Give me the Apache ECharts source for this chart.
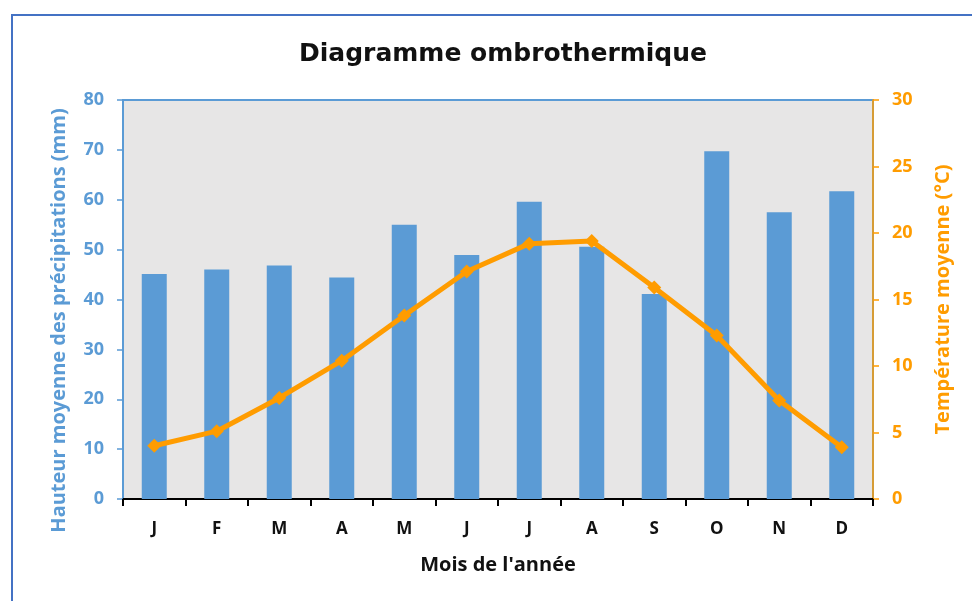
<!DOCTYPE html>
<html>
<head>
<meta charset="utf-8">
<script src="https://cdn.jsdelivr.net/npm/echarts@6/dist/echarts.min.js"></script>
<style>html,body{margin:0;padding:0;background:#fff}#c{width:972px;height:601px}</style>
</head>
<body>
<div id="c"></div>
<script>
var months = ['J','F','M','A','M','J','J','A','S','O','N','D'];
var precipitation = [45.1, 46.0, 46.8, 44.4, 55.0, 48.9, 59.6, 50.6, 41.1, 69.7, 57.5, 61.7];
var temperature = [4.0, 5.1, 7.6, 10.4, 13.8, 17.1, 19.2, 19.4, 15.9, 12.3, 7.4, 3.9];
var leftTicks = {min: 0, max: 80, interval: 10};
var rightTicks = {min: 0, max: 30, interval: 5};

var blue = '#5b9bd5', orange = '#ff9c00';
var chart = echarts.init(document.getElementById('c'), null, {renderer: 'canvas'});
chart.setOption({
  backgroundColor: '#ffffff',
  animation: false,
  title: {
    text: 'Diagramme ombrothermique',
    left: 498, top: 37, textAlign: 'center',
    textStyle: {fontFamily: 'DejaVu Sans', fontWeight: 'bold', fontSize: 25, color: '#111'}
  },
  graphic: [{
    type: 'rect', silent: true,
    shape: {x: 12, y: 15, width: 1000, height: 700},
    style: {fill: 'none', stroke: '#4472c4', lineWidth: 2}
  }],
  grid: {
    left: 123, top: 100, right: 99, bottom: 102,
    show: true, backgroundColor: '#e7e6e6', borderColor: blue, borderWidth: 2
  },
  xAxis: {
    type: 'category', data: months,
    name: "Mois de l'année", nameLocation: 'middle', nameGap: 56,
    nameTextStyle: {fontFamily: 'Open Sans', fontWeight: 'bold', fontSize: 20, color: '#111'},
    axisLine: {lineStyle: {color: '#000', width: 2}},
    axisTick: {show: true, length: 7, lineStyle: {color: '#000', width: 2}},
    axisLabel: {margin: 22, fontFamily: 'Open Sans', fontWeight: 'bold', fontSize: 17, color: '#111'}
  },
  yAxis: [{
    type: 'value', min: leftTicks.min, max: leftTicks.max, interval: leftTicks.interval,
    name: 'Hauteur moyenne des précipitations (mm)', nameLocation: 'middle', nameGap: 54, nameRotate: 90,
    nameTextStyle: {fontFamily: 'Open Sans', fontWeight: 'bold', fontSize: 20, color: blue, padding: [0, 42, 0, 0]},
    axisLine: {show: true, lineStyle: {color: blue, width: 1.5}},
    axisTick: {show: true, length: 6, lineStyle: {color: blue, width: 1.5}},
    axisLabel: {margin: 19, fontFamily: 'Open Sans', fontWeight: 'bold', fontSize: 18, color: blue},
    splitLine: {show: false}
  }, {
    type: 'value', min: rightTicks.min, max: rightTicks.max, interval: rightTicks.interval,
    position: 'right',
    name: 'Température moyenne (°C)', nameLocation: 'middle', nameGap: 60, nameRotate: 90,
    nameTextStyle: {fontFamily: 'Open Sans', fontWeight: 'bold', fontSize: 20, color: orange},
    axisLine: {show: true, lineStyle: {color: orange, width: 1.5}},
    axisTick: {show: true, length: 6, lineStyle: {color: orange, width: 1.5}},
    axisLabel: {margin: 19, fontFamily: 'Open Sans', fontWeight: 'bold', fontSize: 18, color: orange},
    splitLine: {show: false}
  }],
  series: [{
    name: 'Précipitations', type: 'bar', yAxisIndex: 0, data: precipitation,
    barWidth: 25, itemStyle: {color: blue}
  }, {
    name: 'Température', type: 'line', yAxisIndex: 1, data: temperature,
    symbol: 'diamond', symbolSize: 14,
    lineStyle: {color: orange, width: 5}, itemStyle: {color: orange}
  }]
});
</script>
</body>
</html>
